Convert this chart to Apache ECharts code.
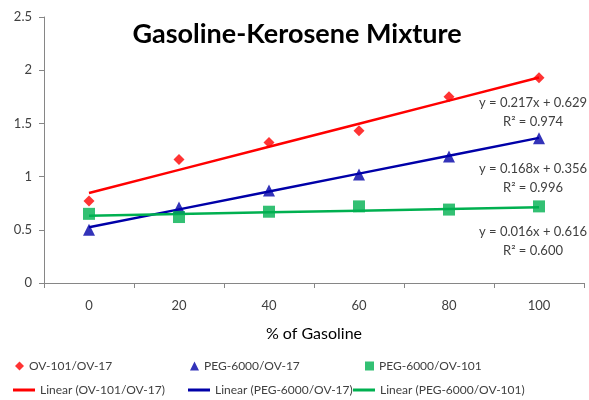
<!DOCTYPE html>
<html>
<head>
<meta charset="utf-8">
<script src="https://cdn.jsdelivr.net/npm/echarts@6/dist/echarts.min.js"></script>
<style>
  html, body { margin: 0; padding: 0; background: #fff; }
  #chart { width: 589px; height: 400px; }
</style>
</head>
<body>
<div id="chart"></div>
<script>
// Gasoline percentage categories
const categories = ['0', '20', '40', '60', '80', '100'];

// Measured values per stationary-phase pair
const ov101_ov17 = [0.77, 1.16, 1.32, 1.43, 1.75, 1.93];
const peg6000_ov17 = [0.50, 0.71, 0.87, 1.02, 1.19, 1.36];
const peg6000_ov101 = [0.65, 0.62, 0.67, 0.72, 0.69, 0.72];

// Linear fits (x = point index 1..6)
const slopes = [0.217, 0.168, 0.016];
const intercepts = [0.629, 0.356, 0.616];
const rSquared = ['0.974', '0.996', '0.600'];

const seriesNames = ['OV-101/OV-17', 'PEG-6000/OV-17', 'PEG-6000/OV-101'];
const colors = ['#ff0000', '#0000a8', '#00b050'];
const symbols = ['diamond', 'triangle', 'rect'];
const symbolSizes = [11, 12, 12];
const values = [ov101_ov17, peg6000_ov17, peg6000_ov101];

const FONT = 'Lato';

function fitLine(i) {
  return categories.map((c, k) => +(slopes[i] * (k + 1) + intercepts[i]).toFixed(4));
}

const series = [];
values.forEach((v, i) => {
  series.push({
    name: 'Linear (' + seriesNames[i] + ')',
    type: 'line',
    data: fitLine(i),
    showSymbol: false,
    symbol: 'none',
    lineStyle: { color: colors[i], width: 2.5 },
    itemStyle: { color: colors[i] },
    z: 2,
    silent: true
  });
});
values.forEach((v, i) => {
  series.push({
    name: seriesNames[i],
    type: 'scatter',
    data: v,
    symbol: symbols[i],
    symbolSize: symbolSizes[i],
    itemStyle: { color: colors[i] },
    z: 3
  });
});

const legendTextStyle = { color: '#404040', fontSize: 12, fontFamily: FONT };
const markerLegendX = [15, 190, 365];
const lineLegendX = [13, 188, 353];
const legends = [];
seriesNames.forEach((n, i) => {
  legends.push({
    data: [n],
    left: markerLegendX[i],
    top: 360,
    itemWidth: 9,
    itemHeight: 9,
    itemGap: 5,
    padding: 0,
    textStyle: legendTextStyle,
    selectedMode: false
  });
  legends.push({
    data: [{ name: 'Linear (' + n + ')', icon: 'rect' }],
    left: lineLegendX[i],
    top: 384,
    itemWidth: 22,
    itemHeight: 3,
    itemGap: 2,
    padding: 0,
    textStyle: legendTextStyle,
    selectedMode: false
  });
});

// Chart heading
const graphics = [{
  type: 'text',
  x: 297,
  y: 34,
  style: {
    text: 'Gasoline-Kerosene Mixture',
    fill: '#000',
    font: 'bold 27px ' + FONT,
    align: 'center',
    verticalAlign: 'middle'
  }
}];

// Trend-line equations at the right edge
const eqY = [112, 178, 241];
slopes.forEach((s, i) => graphics.push({
  type: 'text',
  x: 533,
  y: eqY[i],
  style: {
    text: 'y = ' + s.toFixed(3) + 'x + ' + intercepts[i].toFixed(3) + '\nR² = ' + rSquared[i],
    fill: '#404040',
    font: '13px ' + FONT,
    align: 'center',
    verticalAlign: 'middle',
    lineHeight: 19
  }
}));

const chart = echarts.init(document.getElementById('chart'), null, { renderer: 'canvas' });
chart.setOption({
  animation: false,
  backgroundColor: '#ffffff',
  grid: { left: 44, right: 5, top: 17, bottom: 117, containLabel: false },
  legend: legends,
  xAxis: {
    type: 'category',
    data: categories,
    boundaryGap: true,
    name: '% of Gasoline',
    nameLocation: 'middle',
    nameGap: 43,
    nameTextStyle: { fontFamily: FONT, fontSize: 16, color: '#000' },
    axisLine: { lineStyle: { color: '#868686', width: 1 } },
    axisTick: { show: true, length: 5, lineStyle: { color: '#868686' } },
    axisLabel: { color: '#404040', fontSize: 13, fontFamily: FONT, margin: 16 },
    splitLine: { show: false }
  },
  yAxis: {
    type: 'value',
    min: 0,
    max: 2.5,
    interval: 0.5,
    axisLine: { show: true, lineStyle: { color: '#868686', width: 1 } },
    axisTick: { show: true, length: 5, lineStyle: { color: '#868686' } },
    axisLabel: { color: '#404040', fontSize: 13, fontFamily: FONT, margin: 12 },
    splitLine: { show: false }
  },
  graphic: graphics,
  series: series
});
</script>
</body>
</html>
